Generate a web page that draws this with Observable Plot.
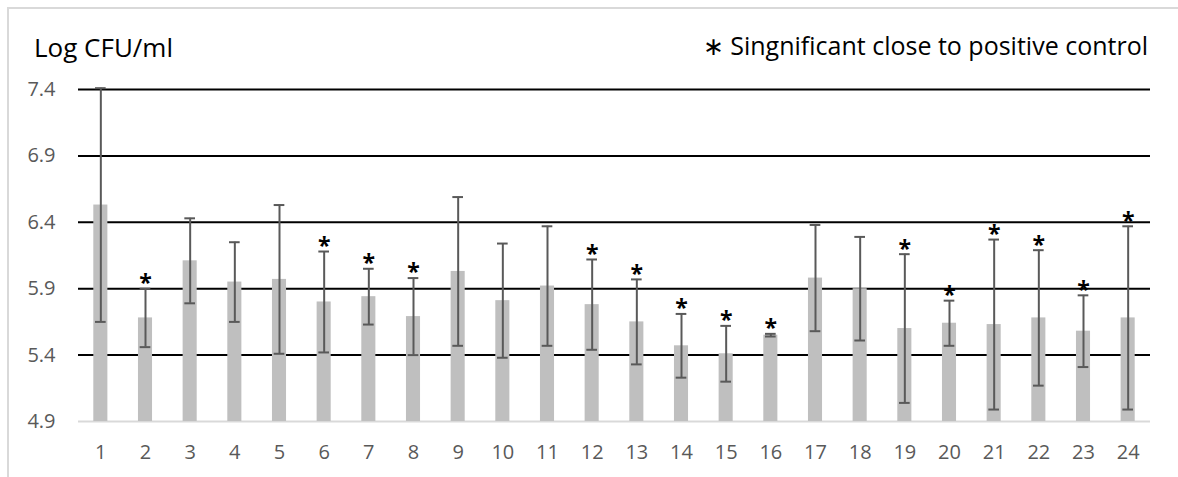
<!DOCTYPE html>
<html>
<head>
<meta charset="utf-8">
<script src="https://cdn.jsdelivr.net/npm/d3@7"></script>
<script src="https://cdn.jsdelivr.net/npm/@observablehq/plot@0.6"></script>
<style>
  body { margin: 0; background: #fff; }
  #wrap { position: relative; width: 1178px; height: 477px; overflow: hidden; font-family: "Open Sans", sans-serif; }
  #frame { position: absolute; left: 7px; top: 7px; width: 1300px; height: 600px; border-left: 2px solid #d9d9d9; border-top: 2px solid #d9d9d9; }
  #title { position: absolute; left: 34px; top: 34px; font-size: 26px; line-height: 1; color: #000; white-space: nowrap; }
  #legend { position: absolute; right: 30px; top: 33px; font-size: 25px; line-height: 1; color: #000; white-space: nowrap; }
  #chart { position: absolute; left: 0; top: 0; }
</style>
</head>
<body>
<div id="wrap">
  <div id="frame"></div>
  <div id="chart"></div>
  <div id="title">Log CFU/ml</div>
  <div id="legend">∗ Singnificant close to positive control</div>
</div>
<script>
// ---- data ----
const categories = ["1","2","3","4","5","6","7","8","9","10","11","12","13","14","15","16","17","18","19","20","21","22","23","24"];
const means = [6.53,5.68,6.11,5.95,5.97,5.80,5.84,5.69,6.03,5.81,5.92,5.78,5.65,5.47,5.41,5.55,5.98,5.90,5.60,5.64,5.63,5.68,5.58,5.68];
const errors = [0.88,0.22,0.32,0.30,0.56,0.38,0.21,0.29,0.56,0.43,0.45,0.34,0.32,0.24,0.21,0.01,0.40,0.39,0.56,0.17,0.64,0.51,0.27,0.69];
const significant = ["2","6","7","8","12","13","14","15","16","19","20","21","22","23","24"];
const yTicks = [4.9, 5.4, 5.9, 6.4, 6.9, 7.4];
const yMin = 4.9, yMax = 7.4;

const data = categories.map((c, i) => ({
  cat: c, mean: means[i], lo: means[i] - errors[i], hi: means[i] + errors[i],
  sig: significant.includes(c)
}));

const font = '"Open Sans", sans-serif';
const chart = Plot.plot({
  width: 1178, height: 477,
  marginLeft: 78, marginRight: 28, marginTop: 89, marginBottom: 56,
  style: { fontFamily: font, fontSize: "20px", color: "#595959", background: "transparent" },
  x: { type: "band", domain: categories, paddingInner: 0, paddingOuter: 0, round: false, label: null },
  y: { domain: [yMin, yMax], label: null },
  marks: [
    Plot.ruleY(yTicks.filter(v => v > yMin), { stroke: "#000", strokeWidth: 2 }),
    Plot.ruleY([yMin], { stroke: "#d9d9d9", strokeWidth: 2 }),
    Plot.barY(data, { x: "cat", y1: () => yMin, y2: "mean", fill: "#bfbfbf", insetLeft: 15.3, insetRight: 15.3 }),
    Plot.ruleX(data, { x: "cat", y1: "lo", y2: "hi", stroke: "#595959", strokeWidth: 2 }),
    Plot.tickY(data, { x: "cat", y: "hi", stroke: "#595959", strokeWidth: 2, insetLeft: 17, insetRight: 17 }),
    Plot.tickY(data, { x: "cat", y: "lo", stroke: "#595959", strokeWidth: 2, insetLeft: 17, insetRight: 17 }),
    Plot.text(data.filter(d => d.sig), { x: "cat", y: "hi", text: () => "*", dy: -5, fontSize: 23, fontWeight: "bold", fill: "#000" }),
    Plot.axisY(yTicks, { tickSize: 0, tickPadding: 23, fontSize: 20, tickFormat: d => d.toFixed(1), label: null }),
    Plot.axisX({ tickSize: 0, tickPadding: 23, fontSize: 20, label: null })
  ]
});
document.getElementById("chart").appendChild(chart);
</script>
</body>
</html>
